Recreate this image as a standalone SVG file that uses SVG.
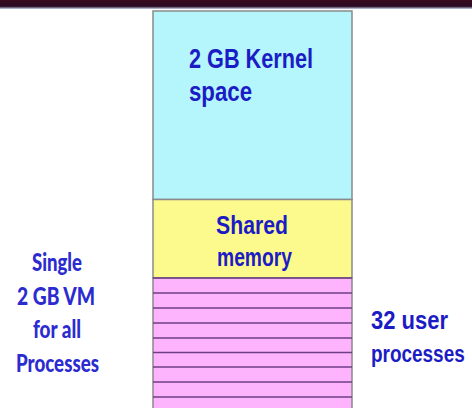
<svg xmlns="http://www.w3.org/2000/svg" width="472" height="408" viewBox="0 0 472 408">
  <style>
    .blk { stroke: #8a8a8a; stroke-width: 1.5; }
    .kernel { fill: #b4f6fc; }
    .shared { fill: #fcfa8c; }
    .user { fill: #fdb4fd; }
    .sep { stroke: #6e3f86; stroke-width: 1.5; }
    .lbl { font-family: "Liberation Sans", Arial, sans-serif; font-weight: bold; fill: #1c1cc4; }
    .side { font-family: Lato, "Liberation Sans", sans-serif; font-weight: 900; fill: #2b2bd0; font-size: 24px; text-anchor: middle; }
  </style>
  <defs>
    <linearGradient id="band" x1="0" y1="0" x2="0" y2="1">
      <stop offset="0" stop-color="#3a0a1c"/>
      <stop offset="0.7" stop-color="#2a0a22"/>
      <stop offset="1" stop-color="#c9d6ee"/>
    </linearGradient>
  </defs>

  <rect width="472" height="408" fill="#ffffff"/>
  <!-- header strip -->
  <rect x="0" y="0" width="472" height="9" fill="url(#band)"/>

  <g id="kernel-space">
    <rect class="blk kernel" x="153" y="11" width="199" height="188.5"/>
    <text class="lbl" x="189" y="68" font-size="27" textLength="124" lengthAdjust="spacingAndGlyphs">2 GB Kernel</text>
    <text class="lbl" x="189" y="101" font-size="27" textLength="63" lengthAdjust="spacingAndGlyphs">space</text>
  </g>

  <g id="shared-memory">
    <rect class="blk shared" x="153" y="199.5" width="199" height="78.5"/>
    <text class="lbl" x="216" y="234" font-size="26" textLength="72" lengthAdjust="spacingAndGlyphs">Shared</text>
    <text class="lbl" x="217" y="266" font-size="26" textLength="75" lengthAdjust="spacingAndGlyphs">memory</text>
  </g>

  <g id="user-processes">
    <rect class="blk user" x="153" y="278" width="199" height="135"/>
    <line class="sep" x1="153" y1="278" x2="352" y2="278"/>
    <line class="sep" x1="153" y1="293" x2="352" y2="293"/>
    <line class="sep" x1="153" y1="308" x2="352" y2="308"/>
    <line class="sep" x1="153" y1="323" x2="352" y2="323"/>
    <line class="sep" x1="153" y1="338" x2="352" y2="338"/>
    <line class="sep" x1="153" y1="352.5" x2="352" y2="352.5"/>
    <line class="sep" x1="153" y1="367" x2="352" y2="367"/>
    <line class="sep" x1="153" y1="382" x2="352" y2="382"/>
    <line class="sep" x1="153" y1="397" x2="352" y2="397"/>
  </g>

  <g id="vm-label">
    <text class="side" x="57" y="271" textLength="50" lengthAdjust="spacingAndGlyphs">Single</text>
    <text class="side" x="56" y="305" textLength="78" lengthAdjust="spacingAndGlyphs">2 GB VM</text>
    <text class="side" x="57" y="338" textLength="48" lengthAdjust="spacingAndGlyphs">for all</text>
    <text class="side" x="57.5" y="372" textLength="83" lengthAdjust="spacingAndGlyphs">Processes</text>
  </g>

  <g id="user-label">
    <text class="lbl" x="371" y="329" font-size="25" textLength="77" lengthAdjust="spacingAndGlyphs">32 user</text>
    <!-- horizontally condensed so the word stays inside the right margin -->
    <text class="lbl" transform="translate(371 362) scale(0.79 1)" x="0" y="0" font-size="24">processes</text>
  </g>

  <g id="connectors"></g>
</svg>
